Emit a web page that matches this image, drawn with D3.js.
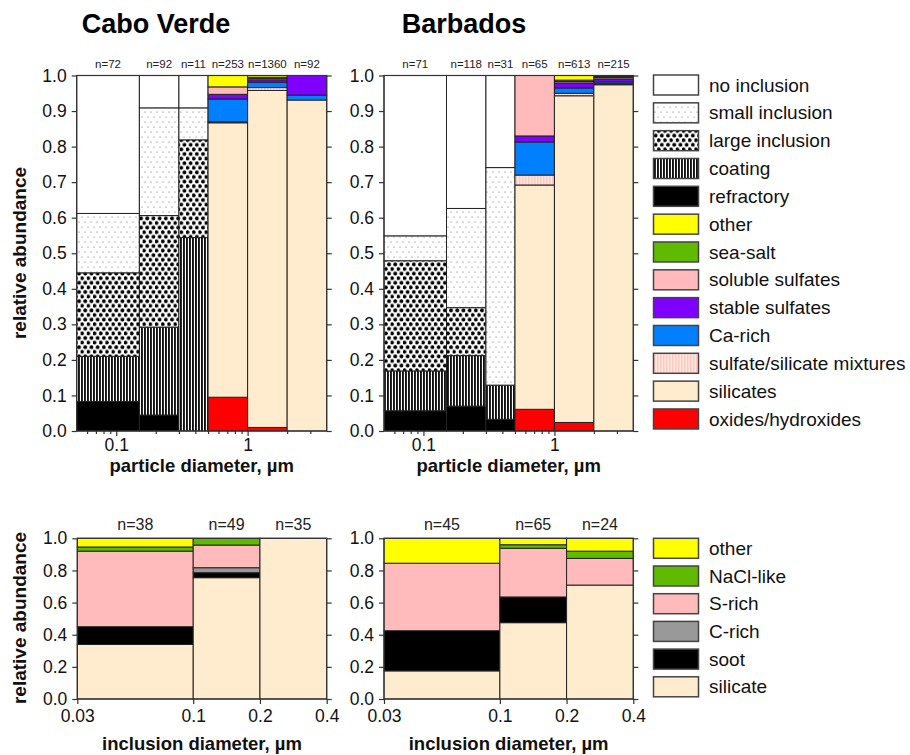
<!DOCTYPE html>
<html>
<head>
<meta charset="utf-8">
<script src="https://cdn.jsdelivr.net/npm/d3@7"></script>
<style>
  html, body { margin: 0; padding: 0; background: #fff; }
  svg { display: block; font-family: "Liberation Sans", Arial, sans-serif; }
</style>
</head>
<body>
<svg id="chart" width="910" height="755"></svg>
<script>
// ---- particle classes (stacked bottom to top) ----
const particleClasses = [
  "oxides/hydroxides", "silicates", "sulfate/silicate mixtures", "Ca-rich",
  "stable sulfates", "soluble sulfates", "sea-salt", "other",
  "refractory", "coating", "large inclusion", "small inclusion", "no inclusion"
];
// legend order, top to bottom
const particleLegend = [
  "no inclusion", "small inclusion", "large inclusion", "coating", "refractory",
  "other", "sea-salt", "soluble sulfates", "stable sulfates", "Ca-rich",
  "sulfate/silicate mixtures", "silicates", "oxides/hydroxides"
];
// particle diameter bins, µm
const particleBins = [[0.05, 0.15], [0.15, 0.3], [0.3, 0.5], [0.5, 1], [1, 2], [2, 4]];

// relative abundance per bin, in particleClasses order
const caboVerdeParticles = [
  [0, 0, 0, 0, 0, 0, 0, 0, 0.083, 0.127, 0.235, 0.167, 0.388],
  [0, 0, 0, 0, 0, 0, 0, 0, 0.045, 0.247, 0.314, 0.303, 0.091],
  [0, 0, 0, 0, 0, 0, 0, 0, 0, 0.544, 0.275, 0.090, 0.091],
  [0.095, 0.772, 0.003, 0.064, 0.013, 0.021, 0, 0.032, 0, 0, 0, 0, 0],
  [0.010, 0.948, 0.008, 0.015, 0.007, 0.004, 0.003, 0.005, 0, 0, 0, 0, 0],
  [0, 0.931, 0, 0.014, 0.055, 0, 0, 0, 0, 0, 0, 0, 0]
];
const barbadosParticles = [
  [0, 0, 0, 0, 0, 0, 0, 0, 0.057, 0.112, 0.310, 0.070, 0.451],
  [0, 0, 0, 0, 0, 0, 0, 0, 0.070, 0.142, 0.135, 0.279, 0.374],
  [0, 0, 0, 0, 0, 0, 0, 0, 0.033, 0.096, 0, 0.612, 0.259],
  [0.061, 0.631, 0.028, 0.093, 0.017, 0.170, 0, 0, 0, 0, 0, 0, 0],
  [0.024, 0.919, 0.007, 0.015, 0.014, 0.004, 0.004, 0.013, 0, 0, 0, 0, 0],
  [0, 0.974, 0.003, 0.005, 0.008, 0.004, 0.003, 0.003, 0, 0, 0, 0, 0]
];
const caboVerdeParticleN = [72, 92, 11, 253, 1360, 92];
const barbadosParticleN = [71, 118, 31, 65, 613, 215];

// ---- inclusion classes (stacked bottom to top) ----
const inclusionClasses = ["silicate", "soot", "C-rich", "S-rich", "NaCl-like", "other"];
const inclusionLegend = ["other", "NaCl-like", "S-rich", "C-rich", "soot", "silicate"];
const inclusionBins = [[0.03, 0.1], [0.1, 0.2], [0.2, 0.4]];
const caboVerdeInclusions = [
  [0.340, 0.110, 0, 0.470, 0.026, 0.054],
  [0.755, 0.031, 0.031, 0.141, 0.042, 0],
  [1, 0, 0, 0, 0, 0]
];
const barbadosInclusions = [
  [0.175, 0.250, 0, 0.420, 0, 0.155],
  [0.475, 0.160, 0, 0.303, 0.022, 0.040],
  [0.709, 0, 0, 0.166, 0.045, 0.080]
];
const caboVerdeInclusionN = [38, 49, 35];
const barbadosInclusionN = [45, 65, 24];

const siteNames = ["Cabo Verde", "Barbados"];
const particleTickLabels = [0.1, 1];
const inclusionTickLabels = [0.03, 0.1, 0.2, 0.4];

// ---- fills ----
const fills = {
  "no inclusion": "#ffffff",
  "small inclusion": "url(#pSmall)",
  "large inclusion": "url(#pLarge)",
  "coating": "url(#pCoating)",
  "refractory": "#000000",
  "other": "#ffff00",
  "sea-salt": "#5fba00",
  "soluble sulfates": "#ffbbbb",
  "stable sulfates": "#8000ff",
  "Ca-rich": "#0080ff",
  "sulfate/silicate mixtures": "url(#pMix)",
  "silicates": "#ffebcd",
  "oxides/hydroxides": "#ff0000",
  "NaCl-like": "#5fba00",
  "S-rich": "#ffbbbb",
  "C-rich": "#999999",
  "soot": "#000000",
  "silicate": "#ffebcd"
};

const svg = d3.select("#chart");
const defs = svg.append("defs");

// small inclusion: sparse grey dots
const pS = defs.append("pattern").attr("id", "pSmall").attr("patternUnits", "userSpaceOnUse")
  .attr("width", 6).attr("height", 10);
pS.append("rect").attr("width", 6).attr("height", 10).attr("fill", "#fff");
pS.append("circle").attr("cx", 1).attr("cy", 2).attr("r", 0.6).attr("fill", "#666");
pS.append("circle").attr("cx", 4).attr("cy", 7).attr("r", 0.6).attr("fill", "#666");

// large inclusion: dense black dots
const pL = defs.append("pattern").attr("id", "pLarge").attr("patternUnits", "userSpaceOnUse")
  .attr("width", 6.2).attr("height", 9.2);
pL.append("rect").attr("width", 6.2).attr("height", 9.2).attr("fill", "#fff");
[[1.5, 2.2], [4.6, 6.8], [4.6 - 6.2, 6.8]].forEach(([cx, cy]) =>
  pL.append("circle").attr("cx", cx).attr("cy", cy).attr("r", 1.9).attr("fill", "#000"));

// coating: vertical stripes
const pC = defs.append("pattern").attr("id", "pCoating").attr("patternUnits", "userSpaceOnUse")
  .attr("width", 3).attr("height", 10);
pC.append("rect").attr("width", 3).attr("height", 10).attr("fill", "#fff");
pC.append("rect").attr("width", 1.9).attr("height", 10).attr("fill", "#111");

// sulfate/silicate mixtures: pale pink stripes
const pM = defs.append("pattern").attr("id", "pMix").attr("patternUnits", "userSpaceOnUse")
  .attr("width", 3).attr("height", 10);
pM.append("rect").attr("width", 3).attr("height", 10).attr("fill", "#ffebd8");
pM.append("rect").attr("width", 1.5).attr("height", 10).attr("fill", "#ffc8c8");

const axisColor = "#333";

function drawPanel(opts) {
  const { x, y, bins, data, classes, counts, nFont, nBaseline, yTicks, minorTicks, majorTicks, tickFmt, tickPad } = opts;
  const g = svg.append("g");
  const x0 = x.range()[0], x1 = x.range()[1];
  const yb = y.range()[0], yt = y.range()[1];

  // stacked bars
  bins.forEach((b, i) => {
    let acc = 0;
    classes.forEach((c, k) => {
      const v = data[i][k];
      if (v <= 0) return;
      g.append("rect")
        .attr("x", x(b[0])).attr("width", x(b[1]) - x(b[0]))
        .attr("y", y(acc + v)).attr("height", y(acc) - y(acc + v))
        .attr("fill", fills[c])
        .attr("stroke", "#222").attr("stroke-width", 1);
      acc += v;
    });
  });

  // frame
  g.append("rect").attr("x", x0).attr("y", yt).attr("width", x1 - x0).attr("height", yb - yt)
    .attr("fill", "none").attr("stroke", axisColor).attr("stroke-width", 1.2);

  // left axis
  const ay = g.append("g").attr("transform", `translate(${x0},0)`)
    .call(d3.axisLeft(y).tickValues(yTicks).tickFormat(d3.format(".1f")).tickSize(5).tickPadding(5).tickSizeOuter(0));
  // right axis (ticks only)
  const ayr = g.append("g").attr("transform", `translate(${x1},0)`)
    .call(d3.axisRight(y).tickValues(yTicks).tickFormat("").tickSize(5).tickSizeOuter(0));
  // bottom axis major
  const ax = g.append("g").attr("transform", `translate(0,${yb})`)
    .call(d3.axisBottom(x).tickValues(majorTicks).tickFormat(tickFmt).tickSize(5).tickPadding(tickPad).tickSizeOuter(0));
  if (minorTicks.length) {
    g.append("g").attr("transform", `translate(0,${yb})`)
      .call(d3.axisBottom(x).tickValues(minorTicks).tickFormat("").tickSize(3).tickSizeOuter(0))
      .select(".domain").remove();
  }
  [ay, ayr, ax].forEach(a => a.select(".domain").remove());
  g.selectAll(".tick line").attr("stroke", axisColor).attr("stroke-width", 1.2);
  g.selectAll(".tick text").attr("font-size", 17.5).attr("fill", "#111")
    .attr("font-family", '"Liberation Sans", Arial, sans-serif');

  // sample counts
  bins.forEach((b, i) => {
    g.append("text")
      .attr("x", (x(b[0]) + x(b[1])) / 2).attr("y", nBaseline)
      .attr("text-anchor", "middle").attr("font-size", nFont).attr("fill", "#222")
      .text("n=" + counts[i]);
  });
  return g;
}

// ---- scales ----
const yTop = d3.scaleLinear().domain([0, 1]).range([431, 75.5]);
const yBot = d3.scaleLinear().domain([0, 1]).range([699, 538.3]);
const xTop = [d3.scaleLog().domain([0.05, 4]).range([76.7, 326.7]),
              d3.scaleLog().domain([0.05, 4]).range([384, 633.3])];
const xBot = [d3.scaleLog().domain([0.03, 0.4]).range([77.3, 326.7]),
              d3.scaleLog().domain([0.03, 0.4]).range([384, 633.3])];

const minorTop = [];
[0.01, 0.1, 1].forEach(dec => {
  for (let m = 2; m <= 9; m++) {
    const v = +(m * dec).toFixed(3);
    if (v > 0.05 && v < 4 && v !== 0.1 && v !== 1) minorTop.push(v);
  }
});

const particleData = [caboVerdeParticles, barbadosParticles];
const particleN = [caboVerdeParticleN, barbadosParticleN];
const inclusionData = [caboVerdeInclusions, barbadosInclusions];
const inclusionN = [caboVerdeInclusionN, barbadosInclusionN];

for (let s = 0; s < 2; s++) {
  drawPanel({
    x: xTop[s], y: yTop, bins: particleBins, data: particleData[s], classes: particleClasses,
    counts: particleN[s], nFont: 11.5, nBaseline: 68,
    yTicks: d3.range(0, 11).map(d => d / 10),
    minorTicks: minorTop, majorTicks: particleTickLabels, tickFmt: d3.format(""), tickPad: 3
  });
  drawPanel({
    x: xBot[s], y: yBot, bins: inclusionBins, data: inclusionData[s], classes: inclusionClasses,
    counts: inclusionN[s], nFont: 16, nBaseline: 530,
    yTicks: d3.range(0, 6).map(d => d / 5),
    minorTicks: [], majorTicks: inclusionTickLabels, tickFmt: d3.format(""), tickPad: 6
  });
}

// ---- titles ----
const titleX = [156, 464];
siteNames.forEach((name, s) => {
  svg.append("text").attr("x", titleX[s]).attr("y", 33).attr("text-anchor", "middle")
    .attr("font-size", 27).attr("font-weight", "bold").attr("fill", "#000").text(name);
  svg.append("text").attr("x", (xTop[s].range()[0] + xTop[s].range()[1]) / 2).attr("y", 472)
    .attr("text-anchor", "middle").attr("font-size", 18.5).attr("font-weight", "bold").attr("fill", "#111")
    .text("particle diameter, µm");
  svg.append("text").attr("x", (xBot[s].range()[0] + xBot[s].range()[1]) / 2).attr("y", 750)
    .attr("text-anchor", "middle").attr("font-size", 18.5).attr("font-weight", "bold").attr("fill", "#111")
    .text("inclusion diameter, µm");
});
[[253, "relative abundance"], [618, "relative abundance"]].forEach(([cy, t]) => {
  svg.append("text").attr("transform", `translate(26,${cy}) rotate(-90)`)
    .attr("text-anchor", "middle").attr("font-size", 19).attr("font-weight", "bold").attr("fill", "#111")
    .text(t);
});

// ---- legends ----
function drawLegend(items, top, step) {
  const g = svg.append("g");
  items.forEach((c, i) => {
    const cy = top + i * step;
    g.append("rect").attr("x", 653.5).attr("y", cy - 10).attr("width", 45).attr("height", 20)
      .attr("fill", fills[c]).attr("stroke", "#444").attr("stroke-width", 1.5);
    g.append("text").attr("x", 709).attr("y", cy).attr("dy", "0.35em")
      .attr("font-size", 19).attr("fill", "#111").text(c);
  });
}
drawLegend(particleLegend, 85, 27.83);
drawLegend(inclusionLegend, 548.3, 27.7);
</script>
</body>
</html>
